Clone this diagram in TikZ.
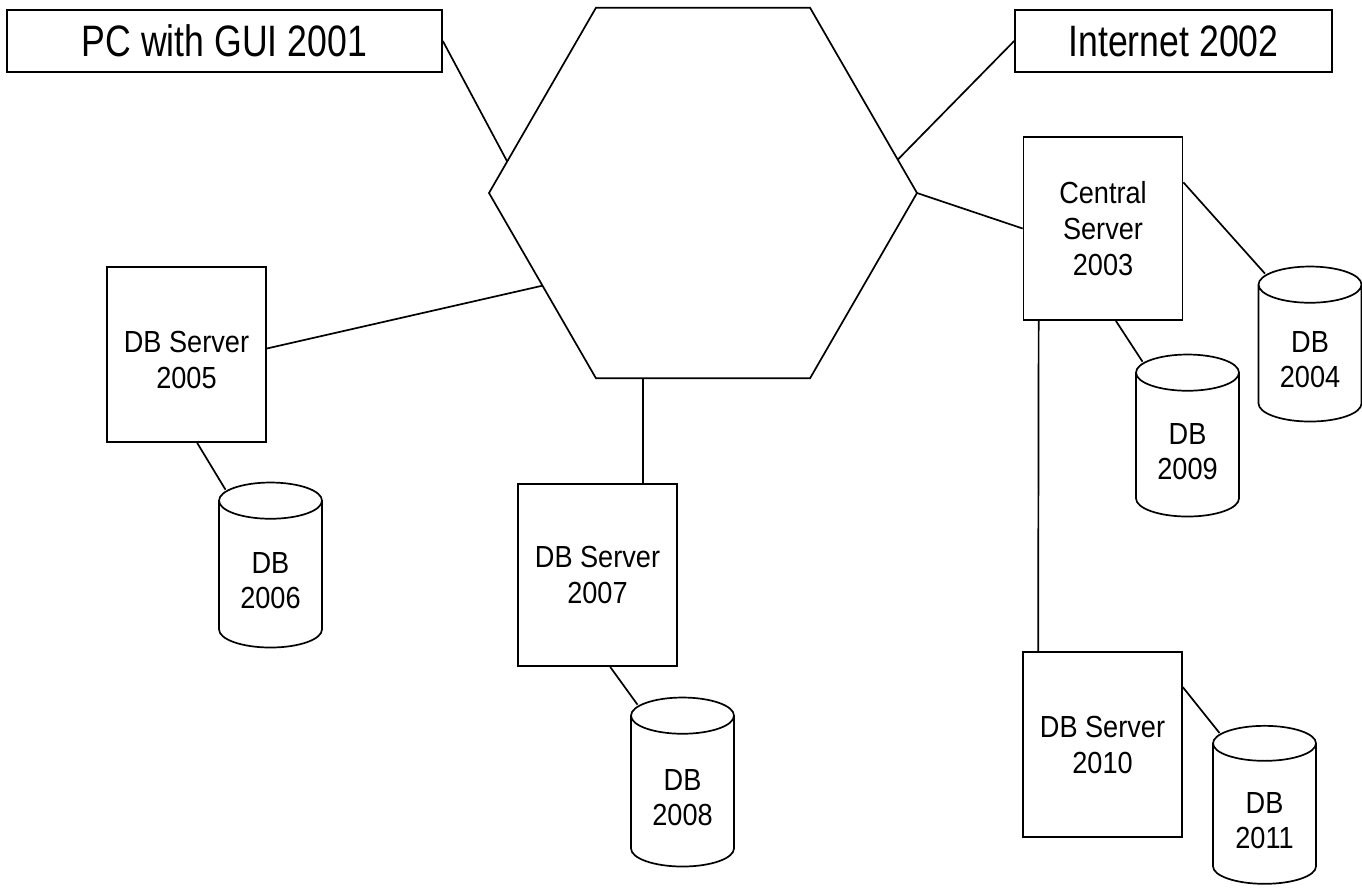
\documentclass[tikz,border=0pt]{standalone}
\usepackage{fontspec}
\setmainfont{Liberation Sans}[FakeStretch=0.89]
\newfontfamily\labelfont{Liberation Sans}[FakeStretch=0.81]
\usetikzlibrary{calc}
\usetikzlibrary{shapes.geometric}

\begin{document}
\begin{tikzpicture}[x=1pt,y=-1pt]
				    \tikzstyle{edge}=[draw,line width = 1.7pt,-,black!100]
				    \tikzstyle{titlebox}=[draw,line width = 1.7pt,minimum height=62pt,inner sep=0pt,font=\labelfont\fontsize{44}{50}\selectfont]
				    \tikzstyle{server}=[draw,line width = 1.7pt,minimum width=159pt,inner sep=0pt,align=center,font=\fontsize{30.5}{36}\selectfont]
				    \tikzstyle{db}=[draw,cylinder,shape border rotate=90,aspect=0.6,line width = 1.7pt,minimum width=103pt,minimum height=162pt,inner sep=0pt,align=center,font=\fontsize{30.5}{35}\selectfont]
				    \useasboundingbox (0,0) rectangle (1362,887);
				    \node[regular polygon,regular polygon sides=6,draw,line width = 1.7pt,minimum size=428pt,inner sep=0pt,outer sep=0pt] (net) at (703,193) {};
				    \node[titlebox,minimum width=435pt] (pc) at (224.5,41) {PC with GUI 2001};
				    \node[titlebox,minimum width=317pt] (inet) at (1173.5,41) {Internet 2002};
				    \node[server,minimum height=183pt] (cs) at (1103,228.5) {Central\\Server\\2003};
				    \node[server,minimum height=175pt] (dbs2005) at (186.5,354.5) {\rule{0pt}{33pt}DB Server\\2005};
				    \node[server,minimum height=182pt] (dbs2007) at (597.5,575) {DB Server\\2007};
				    \node[server,minimum height=185pt] (dbs2010) at (1102.5,744.5) {DB Server\\2010};
				    \node[db,minimum height=155pt] (db2004) at (1310,353.5) {\rule{0pt}{34pt}DB\\2004};
				    \node[db,minimum height=165pt] (db2006) at (270.5,574.5) {\rule{0pt}{34pt}DB\\2006};
				    \node[db,minimum height=169pt] (db2008) at (682.5,791.5) {\rule{0pt}{34pt}DB\\2008};
				    \node[db,minimum height=162pt] (db2009) at (1187.5,445) {\rule{0pt}{34pt}DB\\2009};
				    \node[db,minimum height=158pt] (db2011) at (1264.5,814) {\rule{0pt}{34pt}DB\\2011};
				    \draw[edge] (pc.east) -- ($(net.corner 3)!0.17!(net.corner 2)$);
				    \draw[edge] (inet.west) -- ($(net.corner 6)!0.18!(net.corner 1)$);
				    \draw[edge] (net.corner 6) -- (cs.west);
				    \draw[edge] ($(net.corner 3)!0.5!(net.corner 4)$) -- ($(dbs2005.east)+(0,-6)$);
				    \draw[edge] ($(net.corner 4)!0.22!(net.corner 5)$) coordinate (drop) -- (drop |- dbs2007.north);
				    \draw[edge] ($(cs.north east)!0.25!(cs.south east)$) -- ($(db2004.top)+(-45,8)$);
				    \draw[edge] ($(cs.south west)!0.58!(cs.south east)$) -- ($(db2009.top)+(-45,8)$);
				    \draw[edge] ($(cs.south west)+(16,0)$) -- ($(dbs2010.north west)+(16,0)$);
				    \draw[edge] ($(dbs2010.north east)+(0,36)$) -- ($(db2011.top)+(-45,8)$);
				    \draw[edge] ($(dbs2005.south west)+(91,0)$) -- ($(db2006.top)+(-45,8)$);
				    \draw[edge] ($(dbs2007.south west)+(93,0)$) -- ($(db2008.top)+(-45,8)$);
				\end{tikzpicture}
\end{document}
